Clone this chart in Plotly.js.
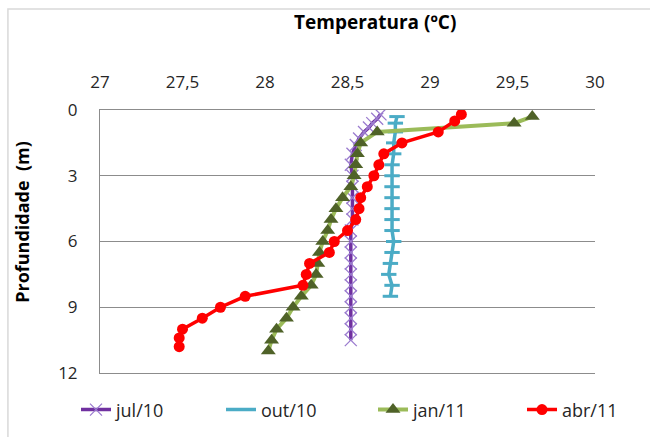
<!DOCTYPE html>
<html>
<head>
<meta charset="utf-8">
<script src="https://cdn.plot.ly/plotly-3.0.1.min.js"></script>
<style>
html,body{margin:0;padding:0;background:#fff;}
#chart{width:650px;height:437px;}
</style>
</head>
<body>
<div id="chart"></div>
<script>
// Series names
const seriesNames = ["jul/10", "out/10", "jan/11", "abr/11"];

// jul/10
const julDepth = [0.2, 0.4, 0.6, 0.8, 1.0, 1.3, 1.6, 2.0, 2.5, 3.0, 3.5, 4.0, 4.5, 5.0, 5.5, 6.0, 6.5, 7.0, 7.5, 8.0, 8.5, 9.0, 9.5, 10.0, 10.5];
const julTemp  = [28.70, 28.68, 28.65, 28.63, 28.60, 28.57, 28.55, 28.53, 28.52, 28.53, 28.53, 28.53, 28.53, 28.53, 28.52, 28.52, 28.52, 28.52, 28.52, 28.52, 28.52, 28.52, 28.52, 28.52, 28.52];

// out/10
const outDepth = [0.3, 0.6, 1.0, 1.5, 2.0, 2.5, 3.0, 3.5, 4.0, 4.5, 5.0, 5.5, 6.0, 6.5, 7.0, 7.5, 8.0, 8.5];
const outTemp  = [28.80, 28.79, 28.79, 28.78, 28.78, 28.77, 28.77, 28.77, 28.77, 28.77, 28.77, 28.77, 28.78, 28.77, 28.76, 28.75, 28.77, 28.76];

// jan/11
const janDepth = [0.3, 0.6, 1.0, 1.5, 2.0, 2.5, 3.0, 3.5, 4.0, 4.5, 5.0, 5.5, 6.0, 6.5, 7.0, 7.5, 8.0, 8.5, 9.0, 9.5, 10.0, 10.5, 11.0];
const janTemp  = [29.62, 29.51, 28.68, 28.58, 28.56, 28.55, 28.54, 28.52, 28.47, 28.43, 28.40, 28.38, 28.35, 28.33, 28.32, 28.31, 28.28, 28.22, 28.17, 28.13, 28.07, 28.04, 28.02];

// abr/11
const abrDepth = [0.2, 0.5, 1.0, 1.5, 2.0, 2.5, 3.0, 3.5, 4.0, 4.5, 5.0, 5.5, 6.0, 6.5, 7.0, 7.5, 8.0, 8.5, 9.0, 9.5, 10.0, 10.4, 10.8];
const abrTemp  = [29.19, 29.15, 29.05, 28.83, 28.72, 28.69, 28.66, 28.62, 28.58, 28.57, 28.55, 28.50, 28.42, 28.39, 28.27, 28.25, 28.23, 27.88, 27.73, 27.62, 27.50, 27.48, 27.48];

const xTickVals = [27, 27.5, 28, 28.5, 29, 29.5, 30];
const yTickVals = [0, 3, 6, 9, 12];

const xTitle = "Temperatura (ºC)";
const yTitle = "Profundidade  (m)";

const FONT = "Open Sans, Noto Sans, sans-serif";

const traces = [
  {
    name: seriesNames[0], x: julTemp, y: julDepth, mode: "lines+markers", type: "scatter", legend: "legend",
    line: {color: "#7030A0", width: 3.5},
    marker: {symbol: "x-thin-open", size: 12, color: "#9b7ccf", line: {color: "#9b7ccf", width: 1.3}}
  },
  {
    name: seriesNames[1], x: outTemp, y: outDepth, mode: "lines+markers", type: "scatter", legend: "legend2",
    line: {color: "#4BACC6", width: 3.5},
    marker: {symbol: "line-ew", size: 11, color: "#4BACC6", line: {color: "#4BACC6", width: 3}}
  },
  {
    name: seriesNames[2], x: janTemp, y: janDepth, mode: "lines+markers", type: "scatter", legend: "legend3",
    line: {color: "#9BBB59", width: 4},
    marker: {symbol: "triangle-up", size: 13, color: "#4F6228"}
  },
  {
    name: seriesNames[3], x: abrTemp, y: abrDepth, mode: "lines+markers", type: "scatter", legend: "legend4",
    line: {color: "#FF0000", width: 3.5},
    marker: {symbol: "circle", size: 11, color: "#FF0000"}
  }
];

function leg(px) {
  return {
    orientation: "h", xref: "container", yref: "container",
    x: px / 650, xanchor: "left", y: 0.062, yanchor: "middle",
    font: {size: 18, family: FONT, color: "#262626"},
    bgcolor: "rgba(0,0,0,0)"
  };
}

const layout = {
  width: 650, height: 437,
  margin: {l: 100, r: 55, t: 110, b: 64},
  paper_bgcolor: "#fff", plot_bgcolor: "#fff",
  separators: ", ",
  font: {family: FONT, color: "#262626", size: 17},
  showlegend: true,
  xaxis: {
    side: "top", range: [27, 30], tickvals: xTickVals,
    showgrid: false, zeroline: false,
    showline: true, mirror: true, linecolor: "#8c8c8c", linewidth: 1,
    ticks: "", ticklabelstandoff: 14,
    tickfont: {size: 17, family: FONT, color: "#262626"}
  },
  yaxis: {
    range: [12, 0], tickvals: yTickVals,
    showgrid: true, gridcolor: "#8c8c8c", gridwidth: 1, zeroline: false,
    showline: true, linecolor: "#8c8c8c", linewidth: 1,
    ticks: "", ticklabelstandoff: 18,
    tickfont: {size: 17, family: FONT, color: "#262626"}
  },
  legend: leg(76),
  legend2: leg(221),
  legend3: leg(373),
  legend4: leg(522),
  annotations: [
    {text: xTitle, xref: "paper", yref: "paper", x: 0.556, y: 1.335, xanchor: "center", yanchor: "middle",
     showarrow: false, font: {size: 19, family: FONT, color: "#000", weight: "bold"}},
    {text: yTitle, xref: "paper", yref: "paper", x: -0.158, y: 0.574, xanchor: "center", yanchor: "middle",
     textangle: -90, showarrow: false, font: {size: 18, family: FONT, color: "#000", weight: "bold"}}
  ],
  shapes: [
    {type: "rect", xref: "paper", yref: "paper", x0: -0.186, x1: 1.2, y0: -0.4, y1: 1.384,
     line: {color: "#d9d9d9", width: 1.5}, fillcolor: "rgba(0,0,0,0)", layer: "below"}
  ]
};

Plotly.newPlot("chart", traces, layout, {displayModeBar: false, staticPlot: true});
</script>
</body>
</html>
